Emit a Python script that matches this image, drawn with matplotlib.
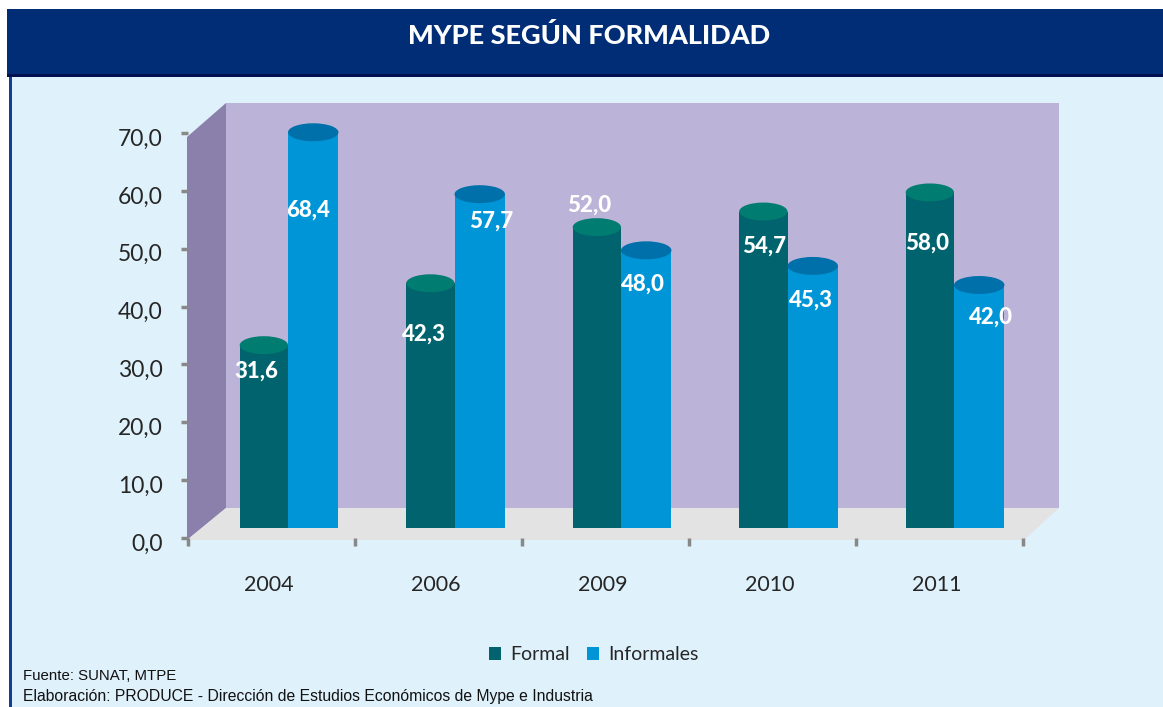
import matplotlib
matplotlib.use("Agg")
import matplotlib.pyplot as plt
from matplotlib.patches import Ellipse, Polygon, Rectangle
from matplotlib.transforms import ScaledTranslation

W, H = 1163, 707

title = "MYPE SEGÚN FORMALIDAD"
years = ["2004", "2006", "2009", "2010", "2011"]
formal = [31.6, 42.3, 52.0, 54.7, 58.0]
informal = [68.4, 57.7, 48.0, 45.3, 42.0]
y_ticks = [0, 10, 20, 30, 40, 50, 60, 70]
source_lines = ["Fuente: SUNAT, MTPE",
                "Elaboración: PRODUCE - Dirección de Estudios Económicos de Mype e Industria"]
source_sizes = [10.8, 11.36]

# label offsets from the top-centre of each cylinder, in pixels
formal_off = [(-8, -26), (-6, -51), (-8, 22), (1, -35), (-3, -51)]
informal_off = [(-5, -78), (12, -27), (-3, -34), (-2, -34), (12, -32)]

C_FORMAL, C_FORMAL_TOP = "#00636E", "#007C70"
C_INF, C_INF_TOP = "#0095D6", "#0070AA"
C_BG, C_WALL, C_SIDE, C_FLOOR = "#DFF1FB", "#BCB4D8", "#8B80AB", "#E3E3E3"
C_TEXT = "#262626"

plt.rcParams["font.family"] = ["Lato", "DejaVu Sans"]
fig = plt.figure(figsize=(W / 100, H / 100), dpi=100, facecolor="white")


def px_axes(l, t, r, b, **kw):
    return fig.add_axes([l / W, 1 - b / H, (r - l) / W, (b - t) / H], **kw)


# page furniture, in pixel coordinates
bg = px_axes(0, 0, W, H)
bg.set_xlim(0, W); bg.set_ylim(H, 0); bg.axis("off")
bg.add_patch(Rectangle((9, 75), W - 9, H - 75, fc=C_BG, ec="none"))
bg.add_patch(Rectangle((8.5, 75), 3, H - 75, fc="#123F92", ec="none"))
bg.add_patch(Rectangle((7, 9), W - 7, 66, fc="#002D76", ec="none"))
bg.add_patch(Rectangle((7, 73.5), W - 7, 3, fc="#001050", ec="none"))
bg.text(589, 35, title, color="white", fontsize=19.5, fontweight=900,
        ha="center", va="center")
bg.add_patch(Rectangle((226, 103), 833, 405, fc=C_WALL, ec="none"))
bg.add_patch(Polygon([(187, 137), (226, 103), (226, 508), (187, 540)], fc=C_SIDE, ec="none"))
bg.add_patch(Polygon([(187, 540), (226, 508), (1059, 508), (1024, 540)], fc=C_FLOOR, ec="none"))
for ln, y, fs in zip(source_lines, (676, 696), source_sizes):
    bg.text(23, y, ln, family="Liberation Sans", fontsize=fs, color="#111111",
            ha="left", va="center")

# front axis: ticks and labels
ax = px_axes(187.5, 133, 1022.5, 538, facecolor="none")
ax.set_xlim(-0.5, 4.5); ax.set_ylim(0, 70)
for s in ax.spines.values():
    s.set_visible(False)
ax.set_yticks(y_ticks)
ax.set_yticklabels([f"{v:.1f}".replace(".", ",") for v in y_ticks], fontsize=16.5, color=C_TEXT)
ax.tick_params(axis="y", length=5, width=2.5, color="#888888", pad=13)
down = ScaledTranslation(0, -4 / 100, fig.dpi_scale_trans)
for lab in ax.get_yticklabels():
    lab.set_transform(lab.get_transform() + down)
ax.set_xticks([i - 0.5 for i in range(len(years) + 1)])
ax.set_xticklabels([])
ax.tick_params(axis="x", which="major", length=6, width=2.5, color="#888888", pad=2)
ax.set_xticks([i - 0.015 for i in range(len(years))], minor=True)
ax.set_xticklabels(years, minor=True, fontsize=15.5, color=C_TEXT)
ax.tick_params(axis="x", which="minor", length=0, pad=26.7)

# cylinders
bx = px_axes(204.75, 123, 1037.25, 528, facecolor="none")
bx.set_xlim(-0.5, 4.5); bx.set_ylim(0, 70); bx.axis("off")
wf, wi = 0.29, 0.303
xs = list(range(len(years)))
b1 = bx.bar(xs, formal, width=-wf, align="edge", color=C_FORMAL, label="Formal", clip_on=False)
b2 = bx.bar(xs, informal, width=wi, align="edge", color=C_INF, label="Informales", clip_on=False)
for i in xs:
    for val, x, w_, col, off in ((formal[i], i - wf / 2, wf, C_FORMAL_TOP, formal_off[i]),
                                 (informal[i], i + wi / 2, wi, C_INF_TOP, informal_off[i])):
        bx.add_patch(Ellipse((x, val), w_, 3.1, fc=col, ec="none", clip_on=False, zorder=3))
        bx.annotate(f"{val:.1f}".replace(".", ","), xy=(x, val), xytext=off,
                    textcoords="offset pixels", color="white", fontsize=16,
                    fontweight=900, ha="center", va="center", zorder=5,
                    annotation_clip=False)

fig.legend(handles=[b1, b2], labels=["Formal", "Informales"], ncol=2, frameon=False,
           loc="center", bbox_to_anchor=(594 / W, 1 - 655 / H), fontsize=14,
           labelcolor=C_TEXT, handlelength=0.62, handleheight=0.62, handletextpad=0.5,
           columnspacing=0.85)

fig.savefig("out.png", dpi=100, facecolor="white")
